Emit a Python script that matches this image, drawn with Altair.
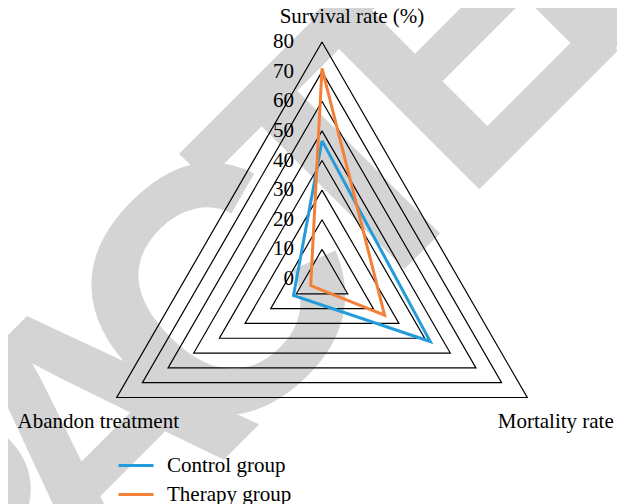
import altair as alt
import pandas as pd

# ---- data ----
axes_names = ["Survival rate (%)", "Mortality rate", "Abandon treatment"]
group_names = ["Control group", "Therapy group"]
control_values = [46.7, 42.2, 11.1]
therapy_values = [71.1, 24.4, 4.4]
grid_levels = [10, 20, 30, 40, 50, 60, 70, 80]
tick_values = [0, 10, 20, 30, 40, 50, 60, 70, 80]
watermark_letters = list("RETRACTED")
colors = ["#239cd9", "#f47f36"]

# ---- geometry ----
W, H = 609, 496
PX = 237 / 80.0          # pixels per unit of radius
CX, CY = 314, 271        # centre of the radar inside the plot area
x_dom = [-CX / PX, (W - CX) / PX]
y_dom = [(CY - H) / PX, CY / PX]

series_rows = []
for g, vals in zip(group_names, [control_values, therapy_values]):
    for k in range(4):
        i = k % 3
        series_rows.append({"group": g, "idx": i, "value": vals[i], "ord": k})
series_df = pd.DataFrame(series_rows)

grid_rows = []
for lv in grid_levels:
    for k in range(4):
        grid_rows.append({"level": lv, "idx": k % 3, "value": lv, "ord": k})
grid_df = pd.DataFrame(grid_rows)

tick_df = pd.DataFrame({"idx": [0] * len(tick_values), "value": tick_values,
                        "label": [str(t) for t in tick_values]})
title_df = pd.DataFrame({"idx": [0, 1, 2], "value": [80, 80, 80], "name": axes_names})
wm_df = pd.DataFrame({"ch": watermark_letters, "k": list(range(len(watermark_letters)))})

xs = alt.Scale(domain=x_dom, nice=False, zero=False)
ys = alt.Scale(domain=y_dom, nice=False, zero=False)


def polar(ch):
    return ch.transform_calculate(
        ang="PI/2 - datum.idx*2*PI/3"
    ).transform_calculate(
        px="datum.value*cos(datum.ang)", py="datum.value*sin(datum.ang)"
    )


X = alt.X("px:Q", scale=xs, axis=None)
Y = alt.Y("py:Q", scale=ys, axis=None)

SERIF = "Liberation Serif"
FS = 21

# watermark letters laid along a diagonal (decoration)
watermark = alt.Chart(wm_df).transform_calculate(
    px=f"((217 + (datum.k-5)*123) - {CX})/{PX}",
    py=f"({CY} - (297 - (datum.k-5)*128))/{PX}",
).mark_text(
    font="Liberation Sans", fontWeight="bold", fontSize=350, angle=315,
    color="#d4d4d4", align="center", baseline="middle"
).encode(x=X, y=Y, text="ch:N")

grid = polar(alt.Chart(grid_df)).mark_line(color="black", strokeWidth=1.2).encode(
    x=X, y=Y, detail="level:N", order="ord:Q"
)

series = polar(alt.Chart(series_df)).mark_line(strokeWidth=3).encode(
    x=X, y=Y, order="ord:Q",
    color=alt.Color("group:N", scale=alt.Scale(domain=group_names, range=colors),
                    legend=alt.Legend(orient="none", legendX=109, legendY=438.5, title=None,
                                      labelFont=SERIF, labelFontSize=FS, labelColor="black",
                                      symbolType="stroke", symbolSize=1225,
                                      symbolStrokeWidth=3, labelOffset=12,
                                      rowPadding=-8, padding=0))
)

ticks = polar(alt.Chart(tick_df)).mark_text(
    align="right", baseline="middle", dx=-28, font=SERIF, fontSize=FS, color="black"
).encode(x=X, y=Y, text="label:N")


def title_layer(i, dx, dy):
    return polar(alt.Chart(title_df).transform_filter(f"datum.idx == {i}")).mark_text(
        align="center", baseline="alphabetic", dx=dx, dy=dy, font=SERIF, fontSize=FS,
        color="black"
    ).encode(x=X, y=Y, text="name:N")


titles = title_layer(0, 30, -19) + title_layer(1, 28.5, 30) + title_layer(2, -18.5, 30)

chart = alt.layer(watermark, grid, series, ticks, titles).properties(
    width=W, height=H, padding=0, autosize="none"
).configure_view(stroke=None)

chart.save("out.html", embed_options={"renderer": "svg", "actions": False})
